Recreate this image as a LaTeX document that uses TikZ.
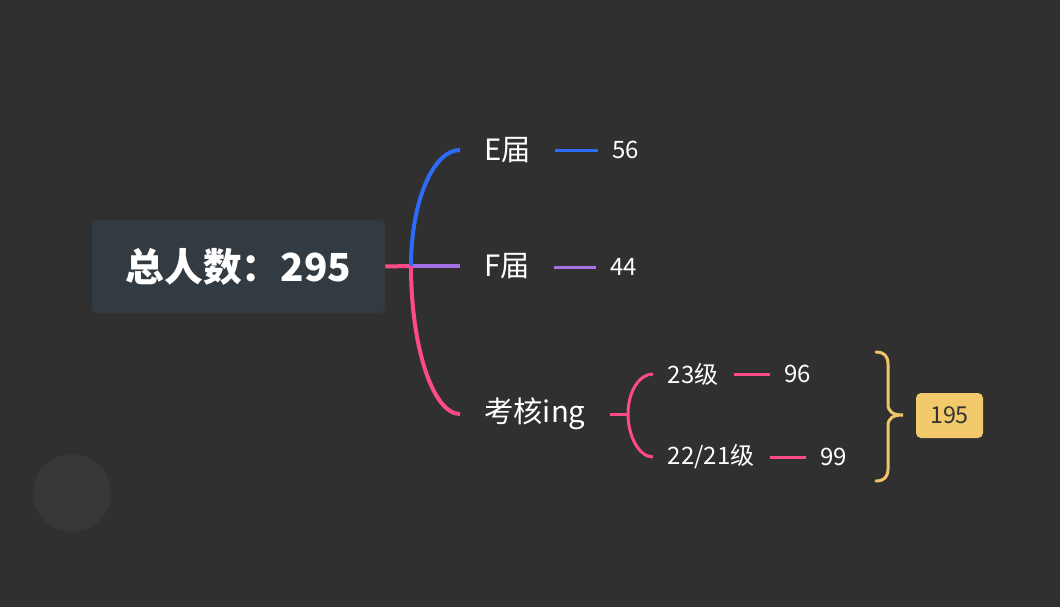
\documentclass[tikz,border=0pt]{standalone}
\usepackage{fontspec}
\setmainfont{Noto Sans CJK SC}
\definecolor{bg}{RGB}{48,48,48}
\definecolor{boxc}{RGB}{50,58,66}
\definecolor{bluec}{RGB}{45,108,250}
\definecolor{purc}{RGB}{163,112,230}
\definecolor{pinkc}{RGB}{255,74,138}
\definecolor{yelc}{RGB}{240,196,104}
\definecolor{sumc}{RGB}{242,201,107}
\definecolor{circc}{RGB}{55,55,55}
\begin{document}
\begin{tikzpicture}[x=0.75pt,y=-0.75pt,
  mainbox/.style={fill=boxc,rounded corners=4.5pt,minimum width=219.75pt,minimum height=69.75pt,inner sep=0pt,text=white,font=\fontsize{29}{34}\selectfont\bfseries},
  lab/.style={anchor=west,inner xsep=18pt,inner ysep=0pt,text=white,font=\fontsize{22}{26}\selectfont},
  sub/.style={anchor=west,inner xsep=11pt,inner ysep=0pt,text=white,font=\fontsize{18}{22}\selectfont},
  num/.style={anchor=west,inner xsep=10.5pt,inner ysep=0pt,text=white,font=\fontsize{18}{22}\selectfont},
  sumbox/.style={fill=sumc,rounded corners=3.75pt,minimum width=50.25pt,minimum height=33.75pt,inner sep=0pt,text={rgb,255:red,51;green,51;blue,51},font=\fontsize{17.5}{20}\selectfont},
  thick3/.style={line width=3pt},
  thin2/.style={line width=2.25pt}]
\path[fill=bg] (0,0) rectangle (1060,607);
\fill[circc] (72,493) circle[radius=29.25pt];
\node[mainbox] (c) at (238.5,266.5) {总人数：295};
\coordinate (j) at (411,266);
\node[lab] (E) at (460,150) {E届};
\node[lab] (F) at (460,266) {F届};
\node[lab] (K) at (460,414) {考核ing};
\node[num] (n56) at (598,150) {56};
\node[num] (n44) at (596,267) {44};
\coordinate (k) at (628,414);
\node[sub] (g23) at (653,374) {23级};
\node[sub] (g22) at (653,457) {22/21级};
\node[num] (n96) at (770,374) {96};
\node[num] (n99) at (806,457) {99};
\node[sumbox] (s) at (949.5,415.5) {195};
% main connectors
\draw[thick3,purc] (j) -- (F.west);
\draw[thick3,bluec] (j) .. controls (411,202) and (433,150) .. (E.west);
\draw[thick3,pinkc] (j) .. controls (411,347) and (433,414) .. (K.west);
\draw[thick3,pinkc] (c.east) -- ([xshift=-1pt]j);
% leaf connectors
\draw[thin2,bluec] (E.east) -- (n56.west);
\draw[thin2,purc] (F.east |- n44.west) -- (n44.west);
\draw[thin2,pinkc] (K.east) -- (k);
\draw[thin2,pinkc] (k) .. controls (628,392) and (639,374) .. (g23.west);
\draw[thin2,pinkc] (k) .. controls (628,436) and (639,457) .. (g22.west);
\draw[thin2,pinkc] (g23.east) -- (n96.west);
\draw[thin2,pinkc] (g22.east) -- (n99.west);
% summary brace
\coordinate (bt) at (876,352);
\coordinate (bb) at (876,481);
\coordinate (bm) at (903,415);
\draw[thin2,yelc,line cap=round] (bt) .. controls (884,352) and (888,356) .. (888,364) -- (888,404)
  .. controls (888,412) and (893,415) .. (bm)
  .. controls (893,415) and (888,418) .. (888,426) -- (888,469)
  .. controls (888,477) and (884,481) .. (bb);
\end{tikzpicture}
\end{document}
